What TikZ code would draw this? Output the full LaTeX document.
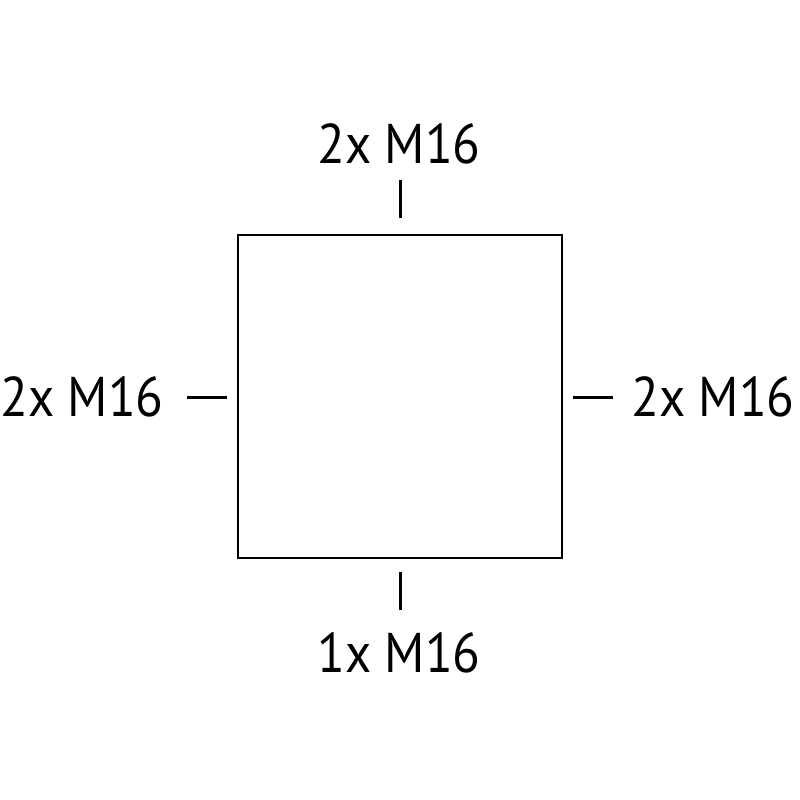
\documentclass[tikz,border=0pt]{standalone}
\usepackage{fontspec}
\setmainfont[FakeStretch=0.91]{PT Sans}
\begin{document}
\begin{tikzpicture}[x=1pt,y=-1pt,
  lbl/.style={inner sep=0pt,font=\fontsize{56}{60}\selectfont},
  tick/.style={line width=3pt},
  boxline/.style={draw,line width=2pt}]
\useasboundingbox (0,0) rectangle (800,800);
\node[boxline,minimum width=324pt,minimum height=323pt,inner sep=0pt] (box) at (400,396.5) {};
\coordinate (t1) at (400,180); \coordinate (t2) at (400,218);
\coordinate (b1) at (400,572); \coordinate (b2) at (400,610);
\coordinate (l1) at (187,397); \coordinate (l2) at (227,397);
\coordinate (r1) at (573,397); \coordinate (r2) at (613,397);
\draw[tick] (t1) -- (t2);
\draw[tick] (b1) -- (b2);
\draw[tick] (l1) -- (l2);
\draw[tick] (r1) -- (r2);
\node[lbl,anchor=base] (top) at (399,163) {2x M16};
\node[lbl,anchor=base] (bot) at (399,672) {1x M16};
\node[lbl,anchor=base] (left) at (82,416) {2x M16};
\node[lbl,anchor=base] (right) at (713,416) {2x M16};
\end{tikzpicture}
\end{document}
